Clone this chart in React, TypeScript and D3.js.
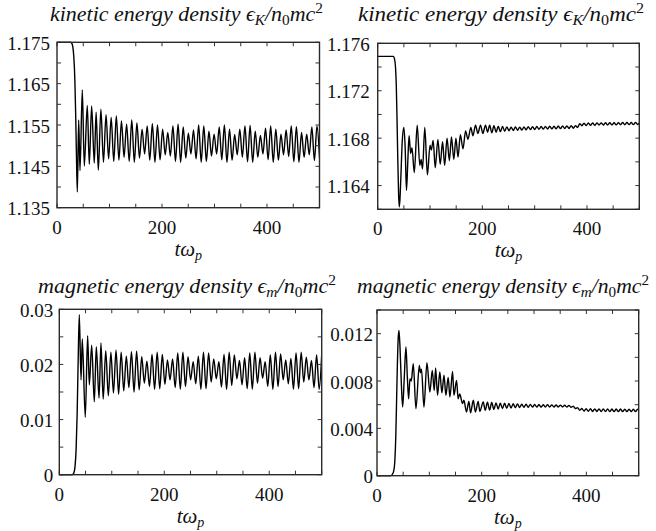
import React from 'react';
import * as d3 from 'd3';

// ---------- axis data ----------
const xTickValues = [0, 50, 100, 150, 200, 250, 300, 350, 400, 450, 500];
const xLabelValues = [0, 200, 400];

const yTicksK1 = [1.135, 1.14, 1.145, 1.15, 1.155, 1.16, 1.165, 1.17, 1.175];
const yLabelsK1 = ['1.175', '1.165', '1.155', '1.145', '1.135'];
const yTicksK2 = [1.162, 1.164, 1.166, 1.168, 1.17, 1.172, 1.174, 1.176];
const yLabelsK2 = ['1.176', '1.172', '1.168', '1.164'];
const yTicksM1 = [0, 0.005, 0.01, 0.015, 0.02, 0.025, 0.03];
const yLabelsM1 = ['0.03', '0.02', '0.01', '0'];
const yTicksM2 = [0, 0.002, 0.004, 0.006, 0.008, 0.01, 0.012, 0.014];
const yLabelsM2 = ['0.012', '0.008', '0.004', '0'];

// ---------- left column: kinetic (top) / magnetic (bottom) ----------
const kinLTransient: [number, number][] = [
  [0, 1.175], [26, 1.175], [28, 1.1748], [30, 1.174], [32, 1.1715], [34, 1.166], [35.5, 1.158],
  [37, 1.148], [38.7, 1.1388], [41.3, 1.1562], [43.8, 1.144], [48.2, 1.1635], [52, 1.1451],
  [57.7, 1.1597], [61.5, 1.1455], [66, 1.1596], [71, 1.1458], [74.5, 1.1581], [78.7, 1.1441],
];
const leftPeriod = 9.8;
const leftPeakStart = 83.6;
const leftTroughStart = 88.5;
const kinLPeaks = [
  1.1588, 1.1575, 1.1568, 1.1572, 1.156, 1.1552, 1.1562, 1.1555, 1.154, 1.1548, 1.1553,
  1.155, 1.154, 1.1532, 1.1548, 1.1552, 1.1545, 1.153, 1.1538, 1.155, 1.1548, 1.1535,
  1.1528, 1.1545, 1.155, 1.154, 1.1527, 1.154, 1.1548, 1.1549, 1.1535, 1.1525, 1.1542,
  1.1548, 1.154, 1.1528, 1.1538, 1.1548, 1.1546, 1.1532, 1.1528, 1.1545, 1.1548,
];
const kinLTroughs = [
  1.146, 1.1468, 1.1462, 1.1465, 1.1472, 1.1462, 1.146, 1.147, 1.148, 1.1465, 1.146,
  1.1466, 1.1478, 1.1475, 1.1462, 1.146, 1.147, 1.148, 1.1468, 1.146, 1.1462, 1.1475,
  1.148, 1.1466, 1.146, 1.1465, 1.1478, 1.1472, 1.1461, 1.146, 1.1472, 1.148, 1.1466,
  1.146, 1.1465, 1.1478, 1.1474, 1.1461, 1.146, 1.1472, 1.1478, 1.1464, 1.147,
];

const magLTransient: [number, number][] = [
  [0, 0], [24, 0], [26, 0.0001], [28, 0.0004], [30, 0.0015], [32, 0.0045], [34, 0.011],
  [36, 0.021], [38.1, 0.029], [41.4, 0.0172], [43.8, 0.0246], [49.5, 0.0104], [54, 0.0252],
  [57.2, 0.0163], [61.7, 0.0235], [66.7, 0.0132], [70.5, 0.0232], [75.7, 0.0139], [79.4, 0.0239],
];
// magnetic troughs fall at leftPeakStart + i*period, peaks at leftTroughStart + i*period
const magLTroughs = [
  0.0137, 0.0143, 0.0148, 0.0146, 0.0152, 0.0158, 0.015, 0.0154, 0.0166, 0.016, 0.0155,
  0.0156, 0.0164, 0.0172, 0.0158, 0.0155, 0.016, 0.0172, 0.0165, 0.0155, 0.0156, 0.0168,
  0.0174, 0.0159, 0.0155, 0.0162, 0.0174, 0.0163, 0.0156, 0.0155, 0.0166, 0.0175, 0.016,
  0.0155, 0.016, 0.0172, 0.0165, 0.0155, 0.0156, 0.0168, 0.0172, 0.0158, 0.0155,
];
const magLPeaks = [
  0.0225, 0.0222, 0.0226, 0.0222, 0.0215, 0.0223, 0.0224, 0.0214, 0.0206, 0.0218, 0.0222,
  0.0218, 0.0208, 0.021, 0.0221, 0.0222, 0.0214, 0.0205, 0.0215, 0.0222, 0.0221, 0.021,
  0.0205, 0.0218, 0.0222, 0.0217, 0.0207, 0.0212, 0.0221, 0.0222, 0.0212, 0.0205, 0.0217,
  0.0222, 0.0219, 0.0208, 0.0211, 0.0221, 0.0222, 0.0213, 0.0207, 0.0217, 0.022,
];

// ---------- right column ----------
const kinRTransient: [number, number][] = [
  [0, 1.1749], [30, 1.1749], [32, 1.1747], [34, 1.174], [35.5, 1.1725], [37, 1.1695],
  [38.5, 1.166], [40, 1.1632], [41.2, 1.1622], [42.5, 1.1628], [44.5, 1.165], [47, 1.1678],
  [50, 1.1689], [52.5, 1.1672], [55, 1.1636], [57.5, 1.166], [60, 1.1682], [63, 1.1667],
  [65.5, 1.1672], [70, 1.1651], [75.5, 1.1691], [80.5, 1.1657], [83, 1.1662], [85.7, 1.1654],
  [90, 1.1689], [95, 1.1649], [100, 1.1674], [102.5, 1.167], [106, 1.1678], [110, 1.1655],
  [115, 1.1679], [119.5, 1.1658], [124, 1.1677], [128, 1.1657], [132.5, 1.168], [137, 1.1661],
  [141, 1.1681], [145.5, 1.1662], [149.5, 1.168], [153.5, 1.1664], [158, 1.1683], [163, 1.1671],
  [168, 1.1686], [172.5, 1.1679], [178, 1.1689], [182, 1.1682], [187, 1.1691], [191.5, 1.1684],
  [196.5, 1.1691], [201, 1.1684], [206, 1.1691], [210, 1.1685],
];
const rightPeriod = 8.2;
const kinRPeakStart = 214;
const kinRTroughStart = 218.1;
const kinRPeaks = [
  1.1691, 1.16905, 1.169, 1.16898, 1.16895, 1.16893, 1.16895, 1.16893, 1.16895, 1.16896,
  1.16897, 1.16898, 1.16898, 1.16899, 1.169, 1.169, 1.16902, 1.16903, 1.16904, 1.16905,
  1.16906, 1.16922, 1.16927, 1.16928, 1.16928, 1.16929, 1.16929, 1.1693, 1.1693, 1.16931,
  1.16931, 1.16932, 1.16932, 1.16933, 1.16933, 1.16933,
];
const kinRTroughs = [
  1.16845, 1.1685, 1.16855, 1.16858, 1.16862, 1.16865, 1.16867, 1.16868, 1.1687, 1.16872,
  1.16873, 1.16874, 1.16876, 1.16877, 1.16878, 1.16879, 1.1688, 1.16881, 1.16882, 1.16884,
  1.1689, 1.16905, 1.16907, 1.16908, 1.16909, 1.1691, 1.1691, 1.16911, 1.16912, 1.16912,
  1.16913, 1.16913, 1.16914, 1.16914, 1.16915,
];

const magRTransient: [number, number][] = [
  [0, 0], [26, 0], [29, 0.0001], [32, 0.0004], [34, 0.0012], [36, 0.0035], [37.5, 0.0065],
  [39, 0.0095], [40.5, 0.0116], [42, 0.01228], [44, 0.0108], [46.5, 0.0078], [49, 0.0058],
  [52, 0.0082], [55.3, 0.01087], [58, 0.0083], [60.4, 0.0065], [63, 0.0082], [65.5, 0.008],
  [69.3, 0.00946], [74.4, 0.00566], [80.8, 0.00932], [83, 0.0087], [85, 0.009], [89.7, 0.0058],
  [95.4, 0.00955], [101, 0.00707], [105.6, 0.0089], [109.4, 0.0072], [112, 0.0091],
  [115.7, 0.0068], [120, 0.00876], [124, 0.007], [128, 0.0085], [131.6, 0.0068], [136, 0.0083],
  [139.3, 0.00665], [144.4, 0.0088], [147, 0.0068], [152, 0.00805], [155, 0.0065], [158, 0.0069],
  [163.5, 0.0061], [166, 0.00637], [171, 0.00538], [175.5, 0.00628], [178.7, 0.00532],
  [184, 0.00637], [188, 0.00538], [193.3, 0.00628], [196.5, 0.00544], [203, 0.00623],
  [206.7, 0.00552],
];
const magRPeakStart = 211;
const magRTroughStart = 215.1;
const magRPeaks = [
  0.0062, 0.00618, 0.00615, 0.00613, 0.00612, 0.0061, 0.00608, 0.00607, 0.00605, 0.00604,
  0.00603, 0.00602, 0.00601, 0.006, 0.00599, 0.00598, 0.00597, 0.00596, 0.00595, 0.00594,
  0.00588, 0.00575, 0.00568, 0.00566, 0.00566, 0.00565, 0.00565, 0.00564, 0.00564, 0.00563,
  0.00563, 0.00563, 0.00562, 0.00562, 0.00562, 0.00562,
];
const magRTroughs = [
  0.00555, 0.0056, 0.00564, 0.00567, 0.0057, 0.00572, 0.00574, 0.00576, 0.00577, 0.00578,
  0.00579, 0.0058, 0.0058, 0.00581, 0.00581, 0.00581, 0.00581, 0.00581, 0.0058, 0.00578,
  0.00568, 0.00553, 0.00546, 0.00544, 0.00543, 0.00543, 0.00542, 0.00542, 0.00542, 0.00541,
  0.00541, 0.00541, 0.00541, 0.00541, 0.00541, 0.00541,
];

type Pt = [number, number];

function buildSeries(
  transient: Pt[], highT0: number, highs: number[], lowT0: number, lows: number[], period: number,
): Pt[] {
  const osc: Pt[] = [
    ...highs.map((v, i) => [highT0 + i * period, v] as Pt),
    ...lows.map((v, i) => [lowT0 + i * period, v] as Pt),
  ].sort((a, b) => a[0] - b[0]);
  return [...transient, ...osc];
}

const seriesK1 = buildSeries(kinLTransient, leftPeakStart, kinLPeaks, leftTroughStart, kinLTroughs, leftPeriod);
const seriesM1 = buildSeries(magLTransient, leftTroughStart, magLPeaks, leftPeakStart, magLTroughs, leftPeriod);
const seriesK2 = buildSeries(kinRTransient, kinRPeakStart, kinRPeaks, kinRTroughStart, kinRTroughs, rightPeriod);
const seriesM2 = buildSeries(magRTransient, magRPeakStart, magRPeaks, magRTroughStart, magRTroughs, rightPeriod);

const FONT = 'Liberation Serif, Times New Roman, serif';
const INK = '#111';

type Box = { x0: number; x1: number; y0: number; y1: number };

interface PanelProps {
  id: string;
  box: Box;
  yDomain: [number, number];
  yTicks: number[];
  yLabels: string[];
  labelGap: number;
  data: Pt[];
  word: string;
  sub: string;
  titleX: number;
  titleY: number;
  titleW: number;
}

const serif = { fontFamily: FONT };
const serifIt = { fontFamily: FONT, fontStyle: 'italic' as const };

function Panel(p: PanelProps) {
  const { box } = p;
  const x = d3.scaleLinear().domain([0, 500]).range([box.x0, box.x1]);
  const y = d3.scaleLinear().domain(p.yDomain).range([box.y1, box.y0]);
  const line = d3
    .line<Pt>()
    .x((d) => x(d[0]))
    .y((d) => y(d[1]))
    .curve(d3.curveMonotoneX);
  const tl = 4;
  const fs = 19;
  const cx = (box.x0 + box.x1) / 2;
  return (
    <g>
      <defs>
        <clipPath id={p.id}>
          <rect x={box.x0} y={box.y0 - 1} width={box.x1 - box.x0} height={box.y1 - box.y0 + 2} />
        </clipPath>
      </defs>
      <path d={line(p.data) || ''} fill="none" stroke="#000" strokeWidth={1.4} clipPath={`url(#${p.id})`} strokeLinejoin="round" />
      {xTickValues.map((t) => (
        <g key={'xt' + t}>
          <line x1={x(t)} x2={x(t)} y1={box.y1} y2={box.y1 - tl} stroke="#333" strokeWidth={1} />
          <line x1={x(t)} x2={x(t)} y1={box.y0} y2={box.y0 + tl} stroke="#333" strokeWidth={1} />
        </g>
      ))}
      {p.yTicks.map((t) => (
        <g key={'yt' + t}>
          <line x1={box.x0} x2={box.x0 + tl} y1={y(t)} y2={y(t)} stroke="#333" strokeWidth={1} />
          <line x1={box.x1} x2={box.x1 - tl} y1={y(t)} y2={y(t)} stroke="#333" strokeWidth={1} />
        </g>
      ))}
      <rect x={box.x0} y={box.y0} width={box.x1 - box.x0} height={box.y1 - box.y0} fill="none" stroke="#2a2a2a" strokeWidth={1.4} />
      {xLabelValues.map((t) => (
        <text key={'xl' + t} x={x(t)} y={box.y1 + 26} textAnchor="middle" style={serif} fontSize={fs} fill={INK}>
          {String(t)}
        </text>
      ))}
      {p.yLabels.map((s) => (
        <text key={'yl' + s} x={box.x0 - p.labelGap} y={y(+s)} dy="0.4em" textAnchor="end" style={serif} fontSize={fs} fill={INK}>
          {s}
        </text>
      ))}
      <text x={cx} y={box.y1 + 48} textAnchor="middle" style={serifIt} fontSize={21} fill={INK}>
        tω<tspan dy={4} fontSize={14}>p</tspan>
      </text>
      <text
        x={p.titleX}
        y={p.titleY}
        style={serifIt}
        fontSize={20}
        fill={INK}
        textLength={p.titleW}
        lengthAdjust="spacingAndGlyphs"
      >
        {p.word + ' ϵ'}
        <tspan dy={4} fontSize={14}>{p.sub}</tspan>
        <tspan dy={-4}>{'/n'}</tspan>
        <tspan dy={4} fontSize={14} style={{ fontStyle: 'normal' }}>0</tspan>
        <tspan dy={-4}>{'mc'}</tspan>
        <tspan dy={-8} fontSize={14} style={{ fontStyle: 'normal' }}>2</tspan>
      </text>
    </g>
  );
}

export default function App() {
  return (
    <svg width={656} height={531} style={{ position: 'absolute', left: 0, top: 0, background: '#fff' }}>
      <rect x={0} y={0} width={656} height={531} fill="#fff" />
      <Panel
        id="c1" box={{ x0: 57, x1: 319.5, y0: 42.3, y1: 207.7 }}
        yDomain={[1.135, 1.175]} yTicks={yTicksK1} yLabels={yLabelsK1} labelGap={7}
        data={seriesK1} word="kinetic energy density" sub="K"
        titleX={50} titleY={21} titleW={273}
      />
      <Panel
        id="c2" box={{ x0: 377.7, x1: 639.3, y0: 43.3, y1: 209.3 }}
        yDomain={[1.162, 1.176]} yTicks={yTicksK2} yLabels={yLabelsK2} labelGap={8}
        data={seriesK2} word="kinetic energy density" sub="K"
        titleX={358} titleY={21} titleW={286}
      />
      <Panel
        id="c3" box={{ x0: 59.3, x1: 321.7, y0: 309.3, y1: 474.7 }}
        yDomain={[0, 0.03]} yTicks={yTicksM1} yLabels={yLabelsM1} labelGap={6}
        data={seriesM1} word="magnetic energy density" sub="m"
        titleX={38} titleY={293} titleW={298}
      />
      <Panel
        id="c4" box={{ x0: 377, x1: 638.7, y0: 310, y1: 475.7 }}
        yDomain={[0, 0.014]} yTicks={yTicksM2} yLabels={yLabelsM2} labelGap={4}
        data={seriesM2} word="magnetic energy density" sub="m"
        titleX={357} titleY={293} titleW={292}
      />
    </svg>
  );
}
